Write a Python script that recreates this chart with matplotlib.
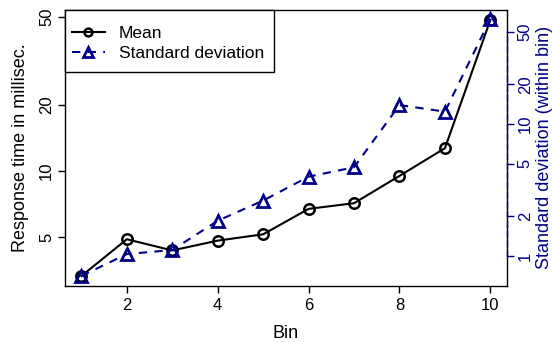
import matplotlib
matplotlib.use("Agg")
import matplotlib.pyplot as plt
from matplotlib.ticker import FixedLocator, FixedFormatter, NullLocator
from matplotlib.patches import Rectangle

plt.rcParams['font.family'] = ['Liberation Sans', 'DejaVu Sans']

bins = [1, 2, 3, 4, 5, 6, 7, 8, 9, 10]
mean_ms = [3.32, 4.88, 4.34, 4.81, 5.14, 6.71, 7.12, 9.48, 12.67, 48.6]
sd_ms = [0.706, 1.035, 1.11, 1.85, 2.63, 3.99, 4.70, 13.9, 12.4, 62.4]
x_ticks = [2, 4, 6, 8, 10]
left_ticks = [5, 10, 20, 50]
right_ticks = [1, 2, 5, 10, 20, 50]

blue = '#00008B'

fig = plt.figure(figsize=(5.52, 3.43), dpi=100)
ax = fig.add_axes([0.1178, 0.1662, 0.918 - 0.1178, 0.9723 - 0.1662])
ax2 = ax.twinx()

l1, = ax.plot(bins, mean_ms, color='black', lw=1.5, marker='o', ms=7.5,
              mfc='none', mec='black', mew=1.8, label='Mean')
l2, = ax2.plot(bins, sd_ms, color=blue, lw=1.5, ls=(0, (4, 3.5)), marker='^', ms=9,
               mfc='none', mec=blue, mew=2, label='Standard deviation')

ax.set_yscale('log')
ax2.set_yscale('log')
ax.set_xlim(0.64, 10.36)
ax.set_ylim(2.99, 54.2)
ax2.set_ylim(0.593, 73.6)

ax.xaxis.set_major_locator(FixedLocator(x_ticks))
ax.set_xticklabels([str(t) for t in x_ticks])
ax.yaxis.set_major_locator(FixedLocator(left_ticks))
ax.yaxis.set_major_formatter(FixedFormatter([str(t) for t in left_ticks]))
ax.yaxis.set_minor_locator(NullLocator())
ax2.yaxis.set_major_locator(FixedLocator(right_ticks))
ax2.yaxis.set_major_formatter(FixedFormatter([str(t) for t in right_ticks]))
ax2.yaxis.set_minor_locator(NullLocator())

for lab in ax.get_yticklabels():
    lab.set_rotation(90)
    lab.set_va('center')
for lab in ax2.get_yticklabels():
    lab.set_rotation(90)
    lab.set_va('center')

ax.tick_params(axis='both', direction='out', length=5, width=1, labelsize=12, pad=4, colors='black')
ax.tick_params(axis='y', pad=3)
ax2.tick_params(axis='y', direction='out', length=5, width=1, labelsize=12, pad=3,
                colors=blue, labelcolor=blue)

for s in ax.spines.values():
    s.set_linewidth(1.0)
    s.set_color('black')
for name in ['left', 'top', 'bottom']:
    ax2.spines[name].set_visible(False)
ax2.spines['right'].set_bounds(1, 50)
ax2.spines['right'].set_color(blue)
ax2.spines['right'].set_linestyle((0, (4, 3)))
ax2.spines['right'].set_linewidth(1.0)

ax.set_xlabel('Bin', fontsize=13, labelpad=8)
ax.set_ylabel('Response time in millisec.', fontsize=13, labelpad=7)
ax2.set_ylabel('Standard deviation (within bin)', fontsize=13, color=blue, labelpad=2)

# legend frame (R-style box flush with the plot's top-left corner)
frame = Rectangle((0.0, 0.774), 0.473, 0.226, transform=ax2.transAxes,
                  facecolor='white', edgecolor='black', lw=1.0, zorder=4.5,
                  clip_on=False)
ax2.add_patch(frame)

leg = ax2.legend(handles=[l1, l2], loc='upper left', bbox_to_anchor=(0.015, 0.94),
                 fontsize=12.5, frameon=False, borderaxespad=0, borderpad=0,
                 handlelength=1.9, handletextpad=0.8, labelspacing=0.27,
                 markerscale=0.75)
leg.set_zorder(5)

fig.savefig('out.png', dpi=100)
